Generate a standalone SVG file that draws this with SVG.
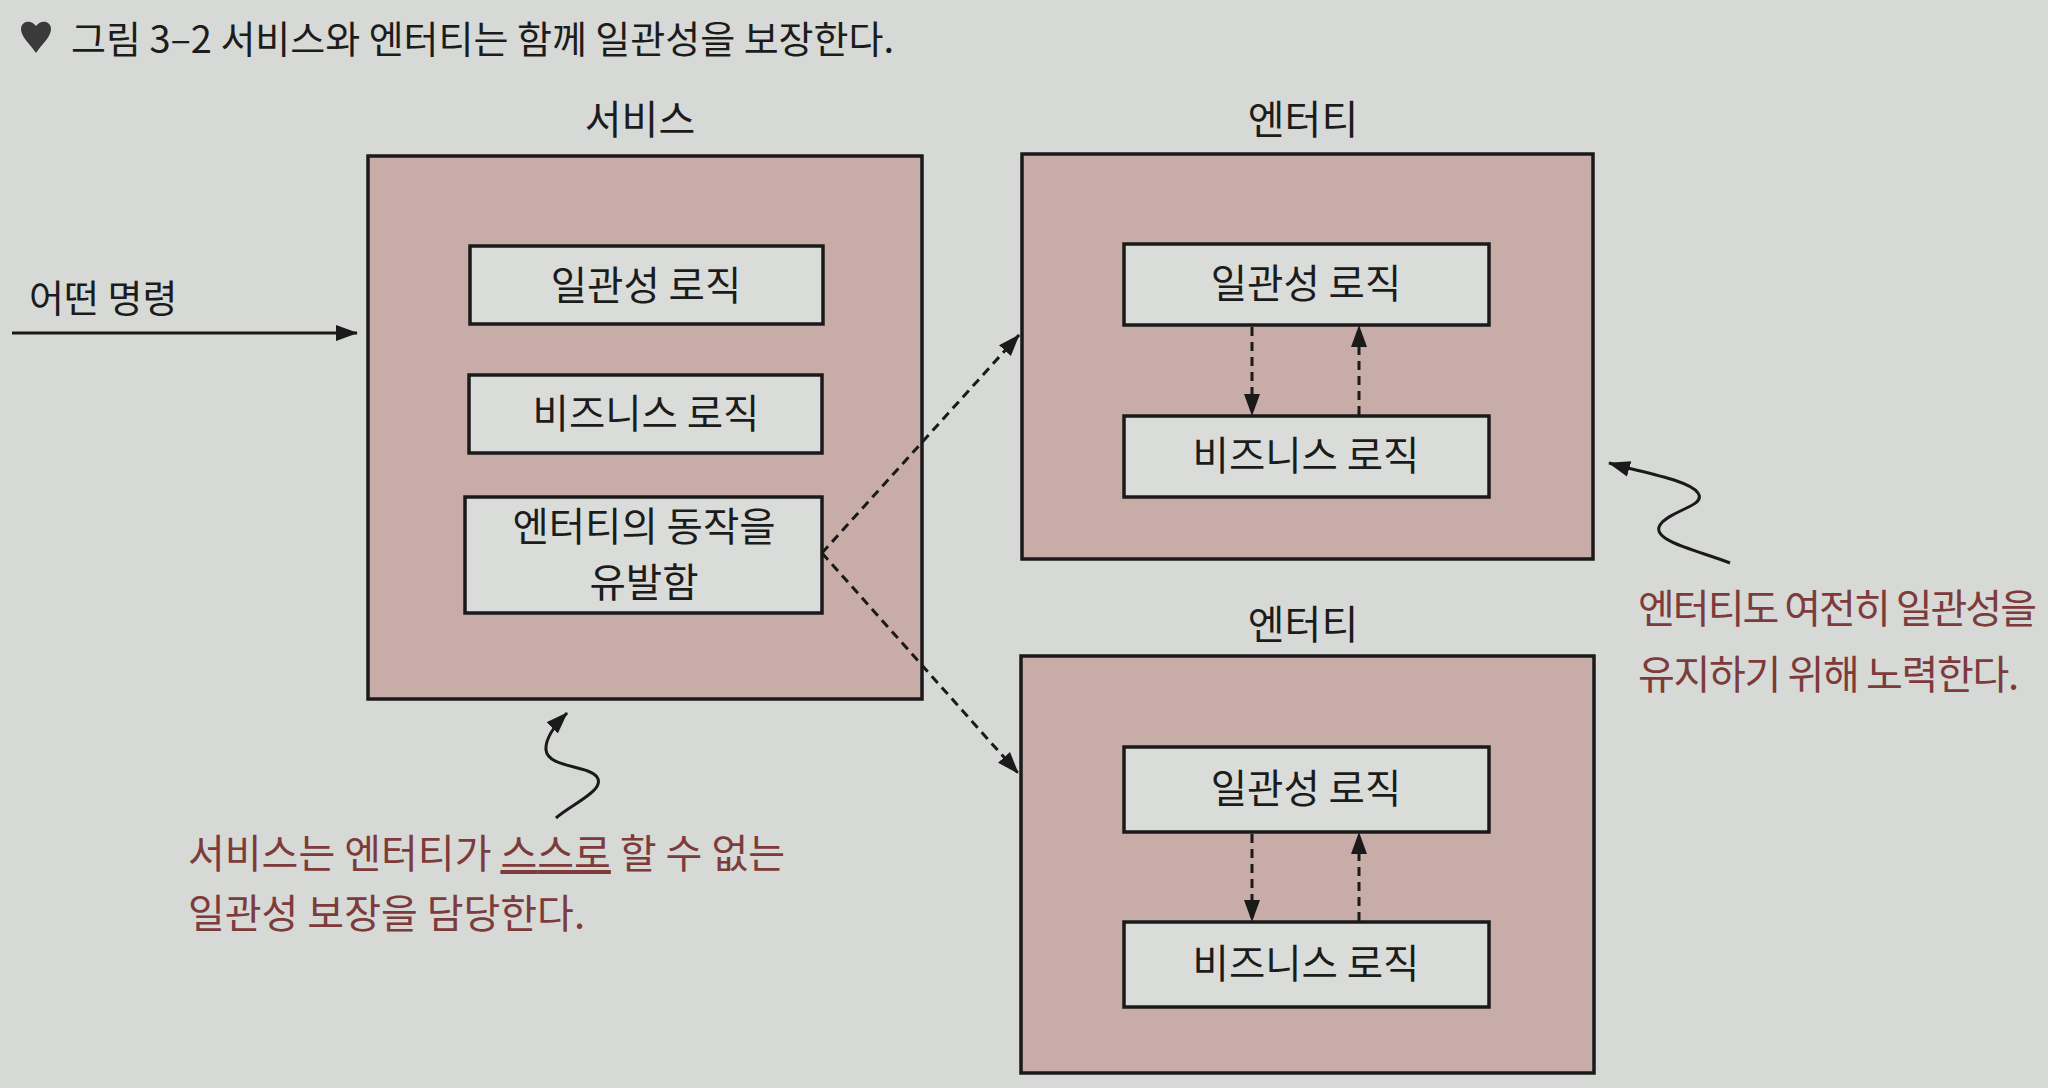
<svg xmlns="http://www.w3.org/2000/svg" width="2048" height="1088" viewBox="0 0 2048 1088">
  <style>
    .txt { font-family: "Noto Sans CJK KR", "Noto Sans", sans-serif; fill: #1c1c1c; }
    .lbl { font-size: 40px; text-anchor: middle; }
    .in { font-size: 39.5px; text-anchor: middle; }
    .note { font-size: 40px; fill: #7d3b3b; }
    .outer { fill: #c8aca8; stroke: #1a1a1a; stroke-width: 3.5; }
    .inner { fill: #dadcd9; stroke: #1a1a1a; stroke-width: 3.5; }
    .dash { fill: none; stroke: #1a1a1a; stroke-width: 3; stroke-dasharray: 9 6; }
    .solid { fill: none; stroke: #1a1a1a; stroke-width: 3; }
  </style>
  <defs>
    <marker id="ah" markerUnits="userSpaceOnUse" markerWidth="24" markerHeight="18" refX="21" refY="8" orient="auto" viewBox="0 0 24 16">
      <path d="M0,0 L22,8 L0,16 Z" fill="#1a1a1a"/>
    </marker>
  </defs>
  <rect x="0" y="0" width="2048" height="1088" fill="#d6d9d5"/>

  <g id="title">
    <path d="M21,29 C21,21 31,19 36,26 C41,19 51,21 51,29 C51,37 42,44 36,53 C30,44 21,37 21,29 Z" fill="#3a3a3a"/>
    <text class="txt" x="71" y="53" font-size="38" fill="#333" textLength="823" lengthAdjust="spacing">그림 3–2  서비스와 엔터티는 함께 일관성을 보장한다.</text>
  </g>

  <g id="service">
    <text class="txt lbl" x="640" y="134">서비스</text>
    <rect class="outer" x="368" y="156" width="554" height="543"/>
  </g>
  <g id="service-consistency">
    <rect class="inner" x="470" y="246" width="353" height="78"/>
    <text class="txt in" x="646" y="300">일관성 로직</text>
  </g>
  <g id="service-business">
    <rect class="inner" x="469" y="375" width="353" height="78"/>
    <text class="txt in" x="646" y="428">비즈니스 로직</text>
  </g>
  <g id="service-trigger">
    <rect class="inner" x="465" y="497" width="357" height="116"/>
    <text class="txt in" x="644" y="541">엔터티의 동작을</text>
    <text class="txt in" x="644" y="597">유발함</text>
  </g>

  <g id="entity1">
    <text class="txt lbl" x="1303" y="134">엔터티</text>
    <rect class="outer" x="1022" y="154" width="571" height="405"/>
  </g>
  <g id="entity1-consistency">
    <rect class="inner" x="1124" y="244" width="365" height="81"/>
    <text class="txt in" x="1306" y="298">일관성 로직</text>
  </g>
  <g id="entity1-business">
    <rect class="inner" x="1124" y="416" width="365" height="81"/>
    <text class="txt in" x="1306" y="470">비즈니스 로직</text>
  </g>

  <g id="entity2">
    <text class="txt lbl" x="1303" y="639">엔터티</text>
    <rect class="outer" x="1021" y="656" width="573" height="417"/>
  </g>
  <g id="entity2-consistency">
    <rect class="inner" x="1124" y="747" width="365" height="85"/>
    <text class="txt in" x="1306" y="803">일관성 로직</text>
  </g>
  <g id="entity2-business">
    <rect class="inner" x="1124" y="922" width="365" height="85"/>
    <text class="txt in" x="1306" y="978">비즈니스 로직</text>
  </g>

  <g id="command">
    <text class="txt" x="29" y="312" font-size="38">어떤 명령</text>
  </g>

  <g id="note-service">
    <text class="txt note" x="188" y="868" textLength="597" lengthAdjust="spacing">서비스는 엔터티가 <tspan text-decoration="underline">스스로</tspan> 할 수 없는</text>
    <text class="txt note" x="188" y="928">일관성 보장을 담당한다.</text>
  </g>
  <g id="note-entity">
    <text class="txt note" x="1638" y="623" font-size="37.5" textLength="399" lengthAdjust="spacing">엔터티도 여전히 일관성을</text>
    <text class="txt note" x="1638" y="689" font-size="37.5" textLength="381" lengthAdjust="spacing">유지하기 위해 노력한다.</text>
  </g>

  <g id="connectors">
    <line class="solid" x1="12" y1="333" x2="357" y2="333" marker-end="url(#ah)"/>
    <line class="dash" x1="822" y1="553" x2="1019" y2="335" marker-end="url(#ah)"/>
    <line class="dash" x1="822" y1="553" x2="1018" y2="773" marker-end="url(#ah)"/>
    <line class="dash" x1="1252" y1="327" x2="1252" y2="415" marker-end="url(#ah)"/>
    <line class="dash" x1="1359" y1="415" x2="1359" y2="326" marker-end="url(#ah)"/>
    <line class="dash" x1="1252" y1="834" x2="1252" y2="921" marker-end="url(#ah)"/>
    <line class="dash" x1="1359" y1="921" x2="1359" y2="833" marker-end="url(#ah)"/>
    <path class="solid" d="M556,818 C572,804 606,790 597,777 C588,765 548,768 546,750 C545,738 556,724 567,713" marker-end="url(#ah)"/>
    <path class="solid" d="M1730,563 C1700,551 1650,541 1660,525 C1670,510 1707,506 1698,493 C1690,480 1640,472 1609,463" marker-end="url(#ah)"/>
  </g>
</svg>
